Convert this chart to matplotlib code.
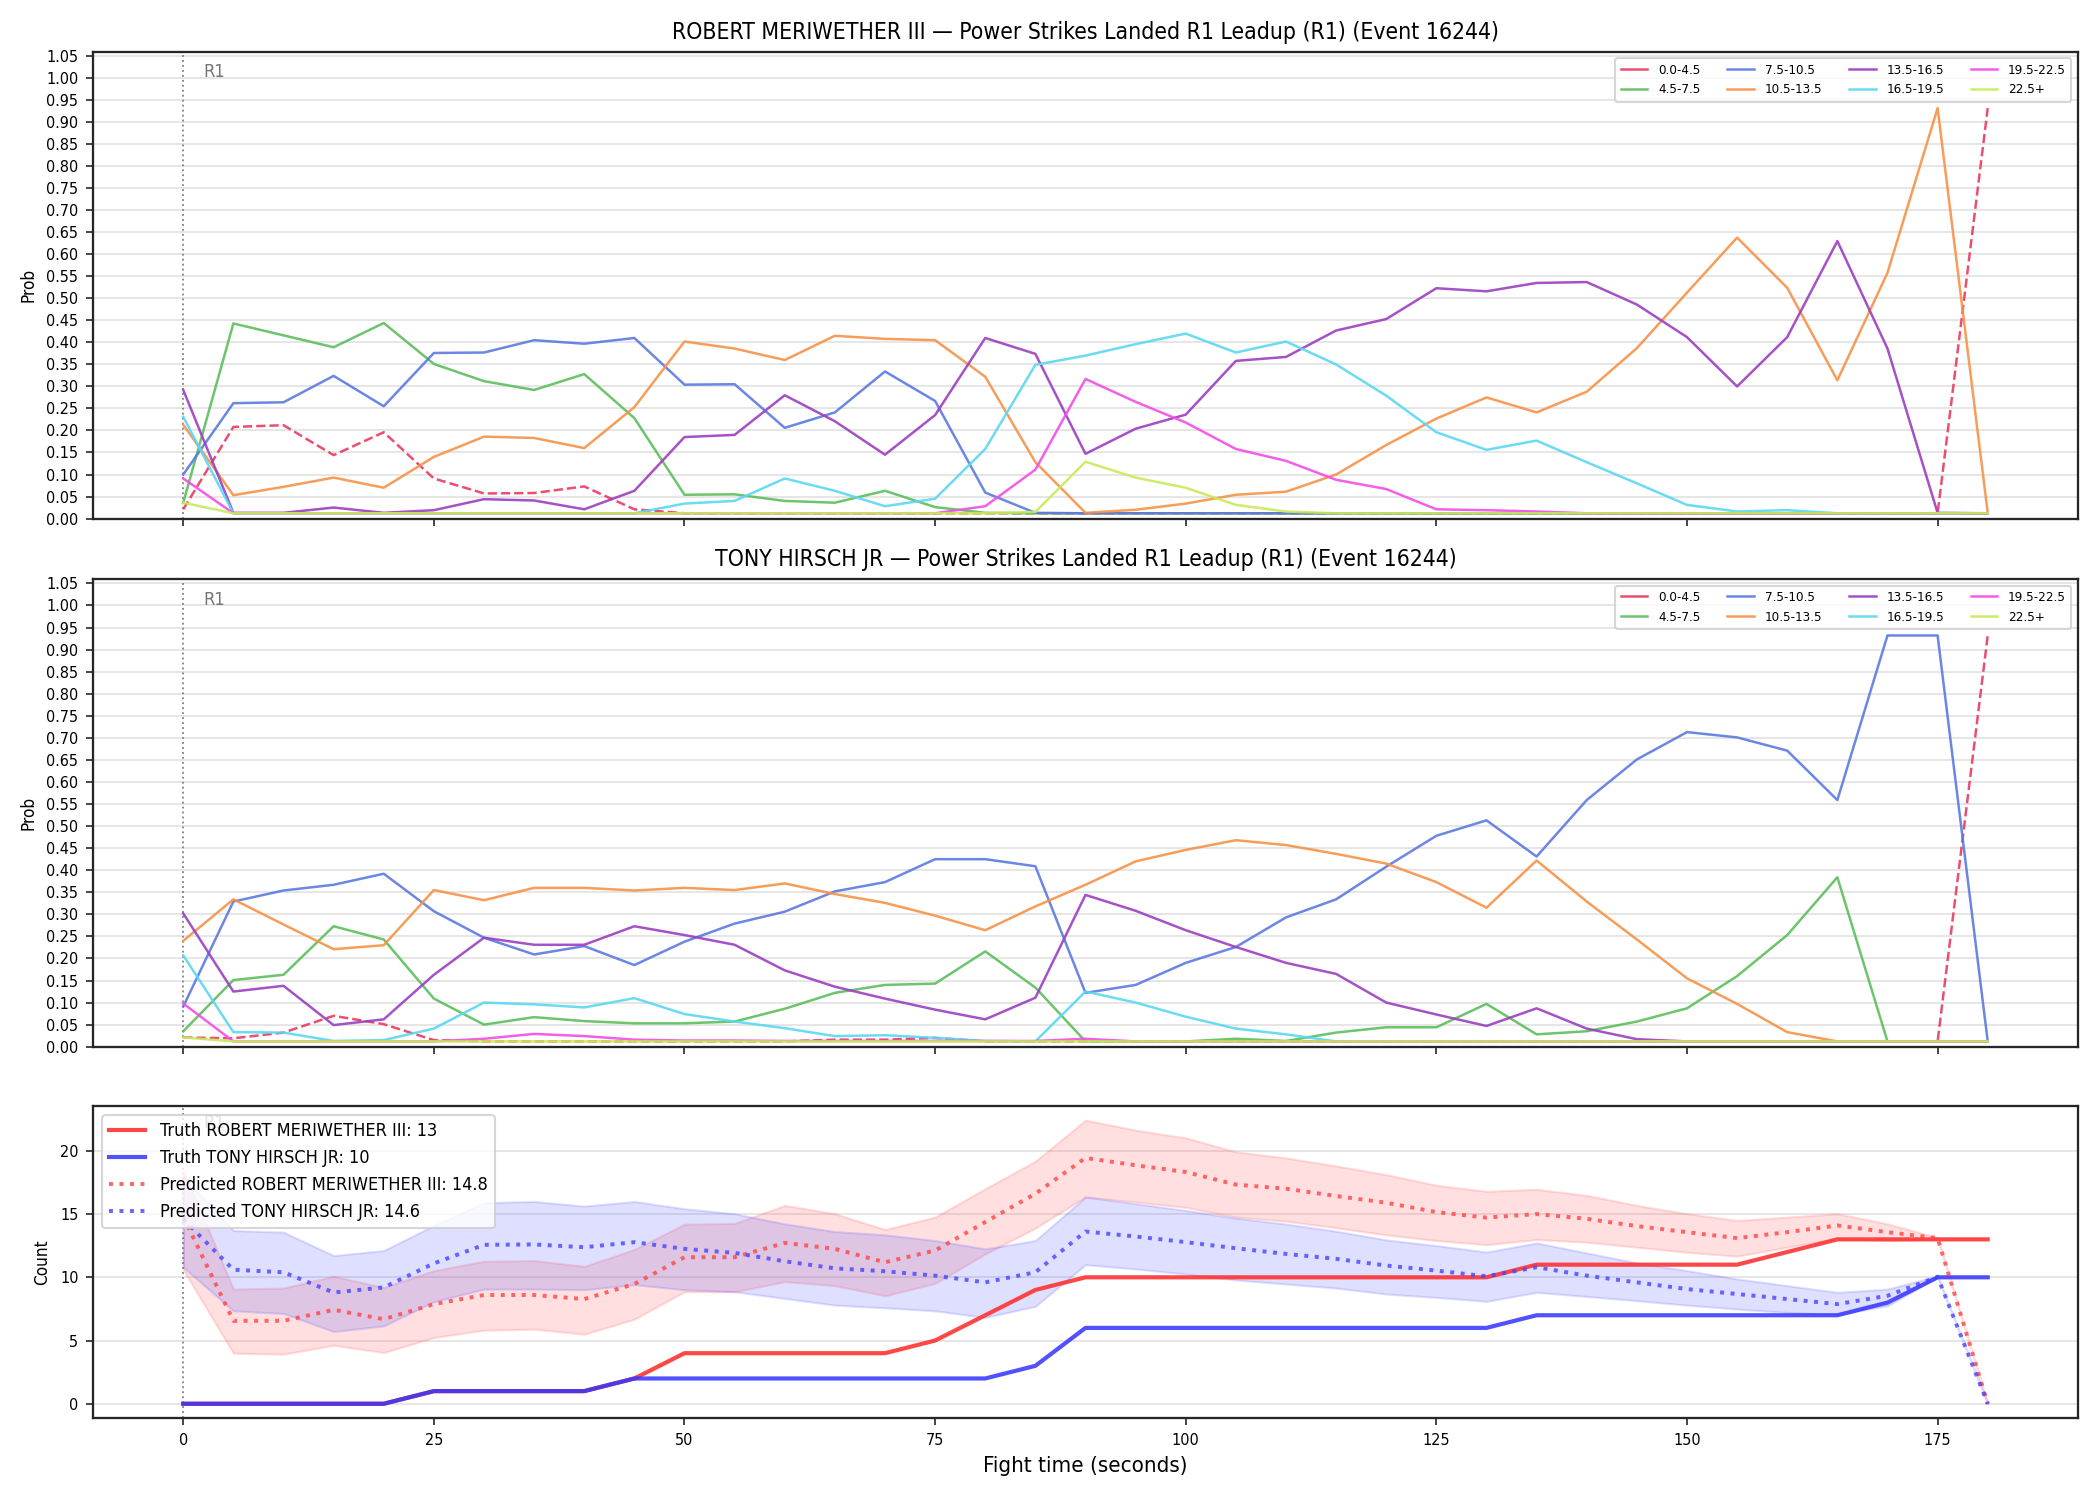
import os
import matplotlib
matplotlib.use("Agg")
import matplotlib.pyplot as plt
from matplotlib import font_manager as fm
from matplotlib.lines import Line2D
import matplotlib.transforms as mtrans

# ---------------- data ----------------
times = [0, 5, 10, 15, 20, 25, 30, 35, 40, 45, 50, 55, 60, 65, 70, 75, 80, 85, 90,
         95, 100, 105, 110, 115, 120, 125, 130, 135, 140, 145, 150, 155, 160, 165,
         170, 175, 180]

bucket_labels = ["0.0-4.5", "4.5-7.5", "7.5-10.5", "10.5-13.5",
                 "13.5-16.5", "16.5-19.5", "19.5-22.5", "22.5+"]

F = 0.012  # probability floor value

rob_0_45 = [0.021, 0.208, 0.212, 0.144, 0.196, 0.091, 0.057, 0.058, 0.073, 0.021] + [F] * 26 + [0.932]
rob_45_75 = [0.036, 0.443, 0.416, 0.389, 0.444, 0.351, 0.312, 0.292, 0.328, 0.228,
             0.054, 0.055, 0.040, 0.036, 0.063, 0.026, 0.013] + [F] * 20
rob_75_105 = [0.100, 0.262, 0.264, 0.324, 0.255, 0.376, 0.377, 0.405, 0.397, 0.410,
              0.304, 0.305, 0.206, 0.241, 0.334, 0.267, 0.059, 0.013] + [F] * 19
rob_105_135 = [0.213, 0.053, 0.072, 0.093, 0.070, 0.140, 0.186, 0.183, 0.160, 0.253,
               0.402, 0.386, 0.360, 0.415, 0.408, 0.405, 0.322, 0.128, 0.013, 0.020,
               0.034, 0.054, 0.061, 0.100, 0.167, 0.227, 0.275, 0.241, 0.288, 0.387,
               0.513, 0.638, 0.524, 0.314, 0.558, 0.932, 0.013]
rob_135_165 = [0.292, 0.013, 0.013, 0.025, 0.013, 0.019, 0.044, 0.041, 0.021, 0.063,
               0.185, 0.190, 0.280, 0.221, 0.145, 0.235, 0.410, 0.374, 0.147, 0.204,
               0.236, 0.358, 0.367, 0.427, 0.453, 0.523, 0.516, 0.535, 0.537, 0.486,
               0.412, 0.300, 0.412, 0.630, 0.386, 0.013, 0.012]
rob_165_195 = [0.231] + [F] * 9 + [0.034, 0.040, 0.091, 0.063, 0.028, 0.045, 0.158, 0.349,
                                   0.370, 0.396, 0.420, 0.377, 0.402, 0.350, 0.279, 0.196,
                                   0.156, 0.177, 0.128, 0.080, 0.031, 0.016, 0.019] + [F] * 4
rob_195_225 = [0.091] + [F] * 15 + [0.028, 0.111, 0.317, 0.265, 0.218, 0.158, 0.131, 0.088,
                                    0.067, 0.021, 0.019, 0.016] + [F] * 9
rob_225p = [0.036] + [F] * 16 + [0.015, 0.129, 0.093, 0.070, 0.031, 0.016] + [F] * 14

tony_0_45 = [0.021, 0.019, 0.032, 0.070, 0.051, 0.015] + [F] * 7 + [0.016, 0.016, 0.020] + [F] * 20 + [0.932]
tony_45_75 = [0.035, 0.151, 0.163, 0.273, 0.243, 0.109, 0.050, 0.067, 0.058, 0.053,
              0.053, 0.057, 0.086, 0.122, 0.140, 0.143, 0.216, 0.134, 0.012, 0.012,
              0.012, 0.018, 0.013, 0.032, 0.044, 0.044, 0.097, 0.028, 0.035, 0.057,
              0.087, 0.160, 0.253, 0.384, 0.012, 0.012, 0.012]
tony_75_105 = [0.091, 0.329, 0.354, 0.367, 0.392, 0.307, 0.247, 0.209, 0.228, 0.185,
               0.238, 0.279, 0.306, 0.352, 0.373, 0.425, 0.425, 0.409, 0.122, 0.140,
               0.190, 0.226, 0.293, 0.334, 0.408, 0.478, 0.513, 0.431, 0.559, 0.651,
               0.713, 0.701, 0.671, 0.559, 0.932, 0.932, 0.012]
tony_105_135 = [0.240, 0.334, 0.277, 0.221, 0.230, 0.355, 0.332, 0.360, 0.360, 0.354,
                0.360, 0.355, 0.370, 0.346, 0.326, 0.297, 0.264, 0.318, 0.367, 0.420,
                0.446, 0.468, 0.457, 0.437, 0.415, 0.373, 0.315, 0.422, 0.329, 0.243,
                0.155, 0.097, 0.033, 0.012, 0.012, 0.012, 0.012]
tony_135_165 = [0.302, 0.125, 0.138, 0.049, 0.062, 0.163, 0.247, 0.231, 0.231, 0.273,
                0.253, 0.231, 0.173, 0.136, 0.109, 0.084, 0.062, 0.111, 0.344, 0.308,
                0.264, 0.226, 0.190, 0.165, 0.100, 0.073, 0.047, 0.087, 0.041, 0.017,
                0.012] + [F] * 6
tony_165_195 = [0.207, 0.033, 0.032, 0.013, 0.015, 0.041, 0.100, 0.096, 0.089, 0.110,
                0.074, 0.057, 0.042, 0.024, 0.026, 0.020, 0.013, 0.012, 0.125, 0.100,
                0.068, 0.041, 0.028] + [F] * 14
tony_195_225 = [0.098, 0.012, 0.012, 0.012, 0.012, 0.012, 0.018, 0.029, 0.024, 0.016,
                0.014, 0.014, 0.013, 0.013, 0.013, 0.013, 0.013, 0.013, 0.018] + [F] * 18
tony_225p = [0.021] + [F] * 36

truth_rob = [0, 0, 0, 0, 0, 1, 1, 1, 1, 2, 4, 4, 4, 4, 4, 5, 7, 9, 10, 10, 10, 10, 10,
             10, 10, 10, 10, 11, 11, 11, 11, 11, 12, 13, 13, 13, 13]
truth_tony = [0, 0, 0, 0, 0, 1, 1, 1, 1, 2, 2, 2, 2, 2, 2, 2, 2, 3, 6, 6, 6, 6, 6, 6,
              6, 6, 6, 7, 7, 7, 7, 7, 7, 7, 8, 10, 10]
pred_rob = [14.8, 6.56, 6.56, 7.43, 6.69, 7.88, 8.6, 8.6, 8.28, 9.47, 11.59, 11.59,
            12.72, 12.25, 11.19, 12.12, 14.37, 16.61, 19.44, 18.86, 18.33, 17.33, 17.01,
            16.43, 15.9, 15.16, 14.72, 15.0, 14.63, 14.05, 13.57, 13.1, 13.57, 14.1,
            13.57, 13.1, 0]
pred_tony = [14.6, 10.6, 10.4, 8.8, 9.2, 11.1, 12.57, 12.6, 12.38, 12.78, 12.25, 11.93,
             11.27, 10.71, 10.48, 10.13, 9.6, 10.4, 13.62, 13.23, 12.78, 12.3, 11.85,
             11.46, 10.93, 10.53, 10.08, 10.8, 10.13, 9.6, 9.07, 8.68, 8.28, 7.88, 8.54,
             10.05, 0]
rob_lo = [10.6, 4.0, 3.92, 4.63, 4.05, 5.24, 5.82, 5.9, 5.5, 6.69, 8.86, 8.86, 9.66,
          9.34, 8.54, 9.52, 11.85, 13.89, 16.35, 15.95, 15.53, 14.76, 14.44, 13.92,
          13.36, 12.91, 12.58, 12.99, 12.78, 12.38, 11.98, 11.67, 12.38, 13.1, 12.91,
          13.05, 0]
rob_hi = [18.5, 9.07, 9.15, 10.08, 9.2, 10.53, 11.27, 11.32, 10.87, 12.2, 14.2, 14.26,
          15.69, 15.03, 13.78, 14.76, 17.01, 19.18, 22.43, 21.64, 21.03, 19.92, 19.44,
          18.81, 18.12, 17.28, 16.8, 16.96, 16.48, 15.69, 15.03, 14.5, 14.76, 15.03,
          14.23, 13.15, 0]
tony_lo = [10.8, 7.35, 7.14, 5.71, 6.16, 8.07, 9.07, 9.07, 9.02, 9.42, 9.02, 8.86, 8.33,
           7.8, 7.59, 7.35, 6.83, 7.7, 11.0, 10.66, 10.26, 9.79, 9.47, 9.15, 8.68, 8.41,
           8.1, 8.81, 8.49, 8.15, 7.8, 7.49, 7.22, 7.06, 7.75, 10.0, 0]
tony_hi = [18.0, 13.7, 13.57, 11.72, 12.12, 14.1, 15.9, 16.0, 15.63, 16.0, 15.42, 15.03,
           14.23, 13.62, 13.36, 12.91, 12.25, 12.91, 16.35, 15.82, 15.29, 14.68, 14.21,
           13.65, 12.96, 12.51, 12.0, 12.72, 11.93, 11.14, 10.53, 9.87, 9.34, 8.81, 9.07,
           10.1, 0]

fighters = ["ROBERT MERIWETHER III", "TONY HIRSCH JR"]
event_id = 16244

rob_series = [rob_0_45, rob_45_75, rob_75_105, rob_105_135, rob_135_165,
              rob_165_195, rob_195_225, rob_225p]
tony_series = [tony_0_45, tony_45_75, tony_75_105, tony_105_135, tony_135_165,
               tony_165_195, tony_195_225, tony_225p]

# ---------------- style ----------------
cond = [f for f in fm.fontManager.ttflist
        if os.path.basename(f.fname).lower() == "dejavusanscondensed.ttf"]
if cond:
    plt.rcParams["font.family"] = [cond[0].name]
    plt.rcParams["font.stretch"] = cond[0].stretch
    S = 0.97
else:
    plt.rcParams["font.family"] = ["DejaVu Sans"]
    S = 0.88

bucket_colors = ["#e83c60", "#5cbf5c", "#5b7ae0", "#f79248",
                 "#9b3fc0", "#5ad8f2", "#f24fe6", "#c8ea5a"]
spine_col = "#262626"

fig = plt.figure(figsize=(14, 10), dpi=150)
L, R = 0.0443, 0.9895
ax1 = fig.add_axes([L, 0.6543, R - L, 0.3112])
ax2 = fig.add_axes([L, 0.3022, R - L, 0.3118], sharex=ax1)
ax3 = fig.add_axes([L, 0.0547, R - L, 0.2080], sharex=ax1)

def style_axes(ax):
    for sp in ax.spines.values():
        sp.set_color(spine_col)
        sp.set_linewidth(1.1)
    ax.grid(axis="y", color="#e2e2e2", linewidth=0.8)
    ax.set_axisbelow(True)
    ax.tick_params(labelsize=8 * S, color=spine_col)
    ax.axvline(0, color="#888888", linestyle=":", linewidth=0.9, zorder=1)
    tr = mtrans.blended_transform_factory(ax.transData, ax.transAxes)
    ax.text(2, 0.975, "R1", transform=tr, ha="left", va="top",
            fontsize=9 * S, color="#777777", zorder=2)

yt = [i * 0.05 for i in range(22)]
for ax, name, series in [(ax1, fighters[0], rob_series), (ax2, fighters[1], tony_series)]:
    style_axes(ax)
    for lab, col, vals in zip(bucket_labels, bucket_colors, series):
        ls = "--" if lab == "0.0-4.5" else "-"
        ax.plot(times, vals, color=col, linestyle=ls, linewidth=1.2, alpha=0.9, zorder=3)
    ax.set_ylim(0, 1.06)
    ax.set_yticks(yt)
    ax.set_yticklabels([f"{v:.2f}" for v in yt])
    ax.set_ylabel("Prob", fontsize=8.5 * S)
    ax.set_title(f"{name} \u2014 Power Strikes Landed R1 Leadup (R1) (Event {event_id})",
                 fontsize=11.3 * S)
    handles = [Line2D([0], [0], color=c, linewidth=1.2, alpha=0.9) for c in bucket_colors]
    ax.legend(handles, bucket_labels, loc="upper right", ncol=4, fontsize=6.6 * S,
              framealpha=0.8)
    ax.tick_params(labelbottom=False)

style_axes(ax3)
ax3.fill_between(times, rob_lo, rob_hi, color="#ff5050", alpha=0.18, zorder=2)
ax3.fill_between(times, tony_lo, tony_hi, color="#5050ff", alpha=0.18, zorder=2)
ax3.plot(times, truth_rob, color="#ff3333", linewidth=2.0, alpha=0.9, zorder=4,
         label=f"Truth {fighters[0]}: {truth_rob[-1]}")
ax3.plot(times, truth_tony, color="#3333ff", linewidth=2.0, alpha=0.85, zorder=4,
         label=f"Truth {fighters[1]}: {truth_tony[-1]}")
ax3.plot(times, pred_rob, color="#ff4444", linewidth=1.9, linestyle=":", alpha=0.8,
         zorder=4, label=f"Predicted {fighters[0]}: {pred_rob[0]:.1f}")
ax3.plot(times, pred_tony, color="#4444ff", linewidth=1.9, linestyle=":", alpha=0.8,
         zorder=4, label=f"Predicted {fighters[1]}: {pred_tony[0]:.1f}")
ax3.set_ylabel("Count", fontsize=8.5 * S)
ax3.set_xlabel("Fight time (seconds)", fontsize=11 * S)
ax3.set_yticks([0, 5, 10, 15, 20])
leg = ax3.legend(loc="upper left", fontsize=8.9 * S, framealpha=0.8)
leg.set_zorder(10)

fig.savefig("out.png", dpi=150)
